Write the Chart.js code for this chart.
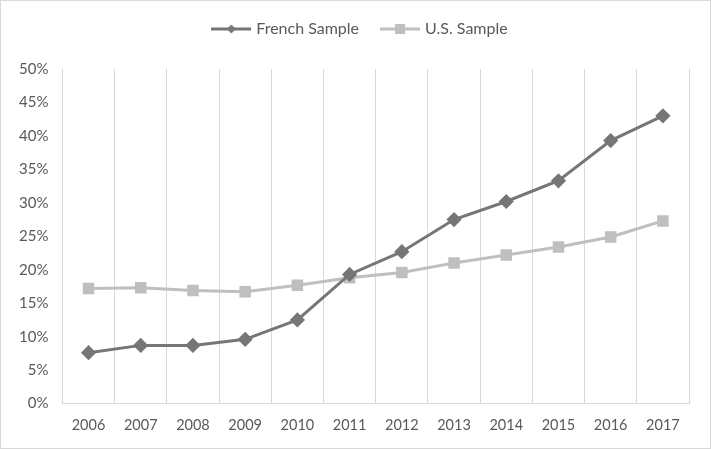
<!DOCTYPE html>
<html><head><meta charset="utf-8">
<script src="https://cdn.jsdelivr.net/npm/chart.js@4"></script>
<style>
html,body{margin:0;padding:0;background:#fff;}
#wrap{position:absolute;left:0;top:0;width:709px;height:447px;border:1px solid #d9d9d9;}
canvas{display:block;}
</style></head>
<body><div id="wrap"><canvas id="c" width="709" height="447"></canvas></div>
<script>
const years = ['2006','2007','2008','2009','2010','2011','2012','2013','2014','2015','2016','2017'];
const frenchSample = [0.076,0.087,0.087,0.096,0.125,0.193,0.227,0.275,0.302,0.333,0.393,0.430];
const usSample = [0.172,0.173,0.169,0.167,0.177,0.188,0.196,0.210,0.222,0.234,0.249,0.273];
const seriesNames = ['French Sample','U.S. Sample'];

function legendIcon(color, style){
  const c = document.createElement('canvas');
  c.width = 40; c.height = 12;
  const g = c.getContext('2d');
  g.strokeStyle = color; g.lineWidth = 3;
  g.beginPath(); g.moveTo(0,6); g.lineTo(40,6); g.stroke();
  g.fillStyle = color;
  if(style==='diamond'){
    g.beginPath(); g.moveTo(20,1.5); g.lineTo(24.5,6); g.lineTo(20,10.5); g.lineTo(15.5,6); g.closePath(); g.fill();
  } else {
    g.fillRect(15,1,10,10);
  }
  return c;
}
const frColor = '#767676', usColor = '#bfbfbf';
const icons = [legendIcon(frColor,'diamond'), legendIcon(usColor,'square')];

Chart.defaults.font.family = 'Lato, "Open Sans", sans-serif';
Chart.defaults.font.size = 14;
Chart.defaults.color = '#595959';

const legendGap = {
  id: 'legendGap',
  beforeInit(chart){
    const lg = chart.legend;
    const fit = lg.fit;
    lg.fit = function(){ fit.call(this); this.height += 18; };
  },
  afterLayout(chart){
    chart.legend.left += 14;
    chart.legend.right += 14;
    chart.legend.top -= 4;
    chart.legend.bottom -= 4;
  }
};

new Chart(document.getElementById('c'), {
  type: 'line',
  data: {
    labels: years,
    datasets: [
      {label: seriesNames[0], data: frenchSample, borderColor: frColor, backgroundColor: frColor,
       borderWidth: 3, pointStyle: 'rectRot', pointRadius: 5.5, pointHoverRadius: 5.5, tension: 0},
      {label: seriesNames[1], data: usSample, borderColor: usColor, backgroundColor: usColor,
       borderWidth: 3, pointStyle: 'rect', pointRadius: 6, pointHoverRadius: 6, tension: 0}
    ]
  },
  plugins: [legendGap],
  options: {
    responsive: false,
    animation: false,
    layout: {padding: {left: 4, right: 21, top: 0, bottom: 1}},
    plugins: {
      tooltip: {enabled: false},
      legend: {
        position: 'top',
        labels: {
          usePointStyle: true,
          pointStyleWidth: 34,
          padding: 24,
          font: {size: 16},
          color: '#595959',
          generateLabels: (chart) => chart.data.datasets.map((ds, i) => ({
            text: ds.label, pointStyle: icons[i], fillStyle: ds.borderColor,
            strokeStyle: ds.borderColor, lineWidth: 0, datasetIndex: i, hidden: false, fontColor: '#595959'
          }))
        }
      }
    },
    scales: {
      x: {
        offset: true,
        grid: {display: true, offset: true, color: '#d9d9d9', lineWidth: 1, drawTicks: false},
        border: {display: true, color: '#d9d9d9'},
        ticks: {padding: 13, color: '#595959', font: {size: 14.5}}
      },
      y: {
        min: 0, max: 0.5,
        grid: {display: false, drawTicks: false},
        border: {display: false},
        ticks: {stepSize: 0.05, padding: 14, color: '#595959', font: {size: 15},
          callback: v => Math.round(v*100) + '%'}
      }
    }
  }
});
</script>
</body></html>
